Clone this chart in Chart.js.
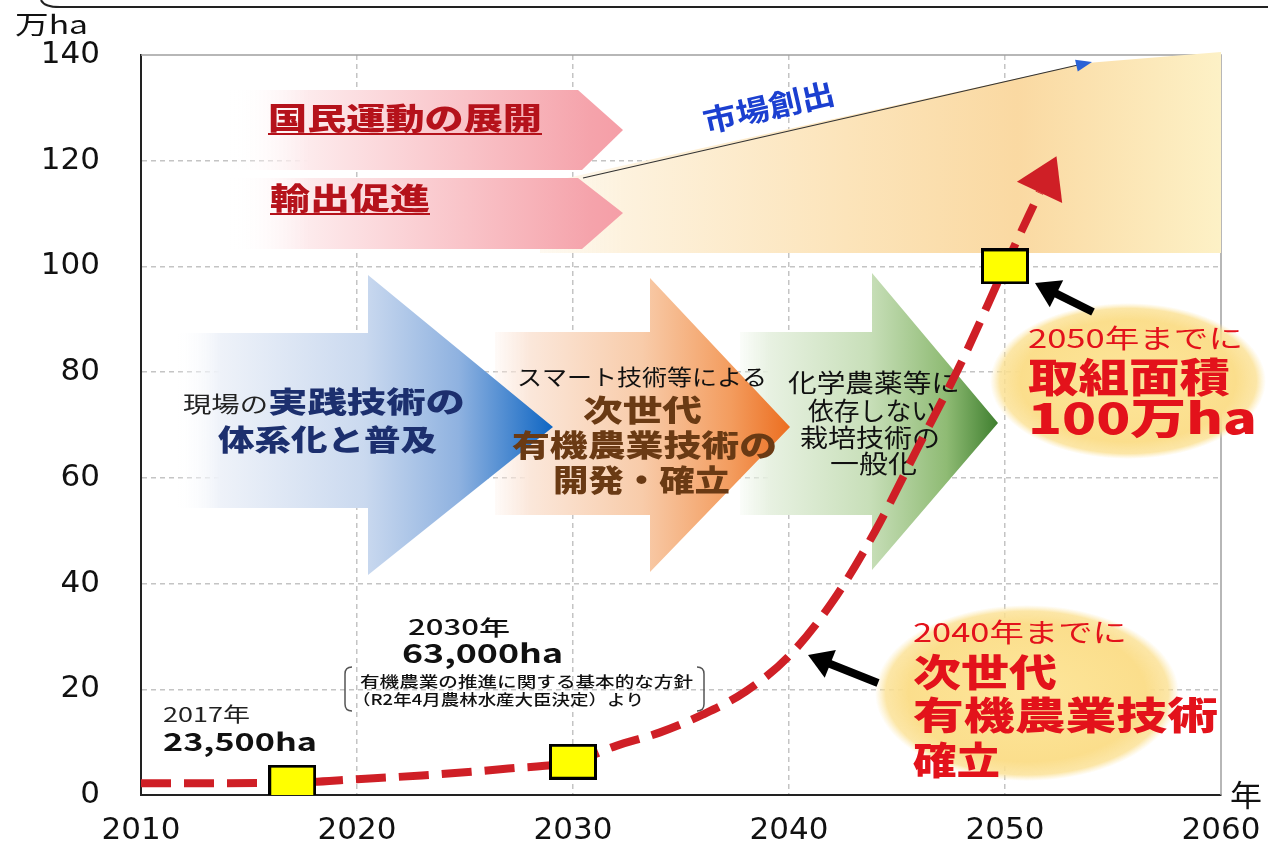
<!DOCTYPE html>
<html><head><meta charset="utf-8">
<script src="https://cdn.jsdelivr.net/npm/chart.js@4.4.1/dist/chart.umd.min.js"></script>
<style>html,body{margin:0;padding:0;background:#fff;overflow:hidden}canvas{display:block}</style>
</head><body>
<canvas id="c" width="1268" height="846"></canvas>
<script>
// ---- data ----
const curveYears  = [2010, 2017, 2020, 2023, 2027, 2030, 2032, 2034, 2036, 2038, 2040, 2042, 2044, 2046, 2048, 2050, 2051.6];
const curveValues = [2.2, 2.35, 3.0, 3.7, 5.0, 6.3, 9.3, 11.8, 15.2, 19.6, 26.3, 36.5, 50, 66, 82, 100, 114];
const markerYears  = [2017, 2030, 2050];
const markerValues = [2.35, 6.3, 100];
const xTicks = [2010, 2020, 2030, 2040, 2050, 2060];
const yTicks = [0, 20, 40, 60, 80, 100, 120, 140];
const xUnit = '年';
const yUnit = '万ha';

const JP = '"Noto Sans CJK JP", "Noto Sans", sans-serif';
const RED = '#e3121b';
const TARGET = { left: 141, right: 1221, top: 55, bottom: 795 };

function fitText(ctx, s, x, y, size, weight, color, width) {
  ctx.save();
  ctx.font = weight + ' ' + size + 'px ' + JP;
  ctx.fillStyle = color;
  ctx.textBaseline = 'middle';
  ctx.textAlign = 'left';
  const w = ctx.measureText(s).width;
  const sx = width ? width / w : 1;
  ctx.translate(x, y);
  ctx.scale(sx, 1);
  ctx.fillText(s, 0, 0);
  ctx.restore();
}

function bigArrow(ctx, x0, bt, bb, hx, ht, hb, tx, ty, stops) {
  const g = ctx.createLinearGradient(x0, 0, tx, 0);
  stops.forEach(s => g.addColorStop(s[0], s[1]));
  ctx.save();
  ctx.fillStyle = g;
  ctx.beginPath();
  ctx.moveTo(x0, bt); ctx.lineTo(hx, bt); ctx.lineTo(hx, ht); ctx.lineTo(tx, ty);
  ctx.lineTo(hx, hb); ctx.lineTo(hx, bb); ctx.lineTo(x0, bb); ctx.closePath();
  ctx.fill();
  ctx.restore();
}

function pentagon(ctx, x0, top, bot, xs, tx, ty, stops) {
  const g = ctx.createLinearGradient(x0, 0, tx, 0);
  stops.forEach(s => g.addColorStop(s[0], s[1]));
  ctx.save();
  ctx.fillStyle = g;
  ctx.beginPath();
  ctx.moveTo(x0, top); ctx.lineTo(xs, top); ctx.lineTo(tx, ty); ctx.lineTo(xs + 4, bot); ctx.lineTo(x0, bot);
  ctx.closePath(); ctx.fill();
  ctx.restore();
}

function blackArrow(ctx, x1, y1, x2, y2) {
  const ang = Math.atan2(y2 - y1, x2 - x1);
  const hl = 24, hw = 15;
  const bx = x2 - hl * Math.cos(ang), by = y2 - hl * Math.sin(ang);
  ctx.save();
  ctx.strokeStyle = '#000'; ctx.fillStyle = '#000';
  ctx.lineWidth = 8;
  ctx.beginPath(); ctx.moveTo(x1, y1); ctx.lineTo(bx + 2 * Math.cos(ang), by + 2 * Math.sin(ang)); ctx.stroke();
  ctx.beginPath();
  ctx.moveTo(x2, y2);
  ctx.lineTo(bx + hw * Math.sin(ang), by - hw * Math.cos(ang));
  ctx.lineTo(bx - hw * Math.sin(ang), by + hw * Math.cos(ang));
  ctx.closePath(); ctx.fill();
  ctx.restore();
}

function blob(ctx, cx, cy, rx, ry) {
  ctx.save();
  ctx.translate(cx, cy);
  ctx.scale(rx / ry, 1);
  const g = ctx.createRadialGradient(0, 0, 0, 0, 0, ry);
  g.addColorStop(0, 'rgba(253,230,155,1)');
  g.addColorStop(0.78, 'rgba(251,222,140,1)');
  g.addColorStop(0.93, 'rgba(251,224,145,0.8)');
  g.addColorStop(1, 'rgba(252,230,165,0)');
  ctx.fillStyle = g;
  ctx.beginPath(); ctx.arc(0, 0, ry, 0, Math.PI * 2); ctx.fill();
  ctx.restore();
}

function bracket(ctx, x, y1, y2, dir) {
  ctx.save();
  ctx.strokeStyle = '#555'; ctx.lineWidth = 1.5;
  ctx.beginPath();
  ctx.moveTo(x + 7 * dir, y1);
  ctx.quadraticCurveTo(x, y1, x, y1 + 7);
  ctx.lineTo(x, y2 - 7);
  ctx.quadraticCurveTo(x, y2, x + 7 * dir, y2);
  ctx.stroke();
  ctx.restore();
}

const decorations = {
  id: 'decorations',
  beforeDatasetsDraw(chart) {
    const ctx = chart.ctx;
    const a = chart.chartArea;
    // top / right frame
    ctx.save();
    ctx.strokeStyle = '#a0a0a0'; ctx.lineWidth = 1.5;
    ctx.beginPath(); ctx.moveTo(a.left, a.top); ctx.lineTo(a.right, a.top); ctx.lineTo(a.right, a.bottom); ctx.stroke();
    ctx.restore();

    // cream band (market creation)
    ctx.save();
    const bg = ctx.createLinearGradient(540, 0, a.right, 0);
    bg.addColorStop(0, 'rgba(253,245,230,0.6)');
    bg.addColorStop(0.12, '#fdf2de');
    bg.addColorStop(0.45, '#fce4ba');
    bg.addColorStop(0.7, '#fad9a2');
    bg.addColorStop(1, '#fdf1c6');
    ctx.fillStyle = bg;
    ctx.beginPath();
    ctx.moveTo(540, 184); ctx.lineTo(1087, 63); ctx.lineTo(a.right, 52);
    ctx.lineTo(a.right, 253); ctx.lineTo(540, 253); ctx.closePath(); ctx.fill();
    ctx.restore();

    const pink = [[0, 'rgba(255,255,255,0)'], [0.2, '#fdeaec'], [0.6, '#f9c3c8'], [0.92, '#f5a3ab'], [1, '#f59ea7']];
    pentagon(ctx, 230, 90, 170, 578, 623, 130, pink);
    pentagon(ctx, 230, 178, 249, 578, 623, 213, pink);
    fitText(ctx, '国民運動の展開', 268, 118, 30, 900, '#b5121b', 274);
    fitText(ctx, '輸出促進', 270, 198, 30, 900, '#b5121b', 160);
    ctx.save(); ctx.strokeStyle = '#b5121b'; ctx.lineWidth = 2;
    ctx.beginPath(); ctx.moveTo(268, 134); ctx.lineTo(542, 134); ctx.moveTo(270, 214); ctx.lineTo(430, 214); ctx.stroke();
    ctx.restore();

    // market creation line
    ctx.save();
    ctx.strokeStyle = '#333'; ctx.lineWidth = 1.2;
    ctx.beginPath(); ctx.moveTo(583, 178); ctx.lineTo(1078, 65); ctx.stroke();
    const la = Math.atan2(65 - 178, 1078 - 583);
    ctx.fillStyle = '#2a62d6';
    ctx.translate(1092, 62); ctx.rotate(la);
    ctx.beginPath(); ctx.moveTo(0, 0); ctx.lineTo(-16, -6); ctx.lineTo(-16, 6); ctx.closePath(); ctx.fill();
    ctx.restore();
    ctx.save();
    ctx.translate(706, 133); ctx.rotate(la);
    ctx.font = '700 30px ' + JP; ctx.fillStyle = '#1b3fd0'; ctx.textBaseline = 'alphabetic';
    const mw = ctx.measureText('市場創出').width;
    ctx.scale(134 / mw, 1);
    ctx.fillText('市場創出', 0, 0);
    ctx.restore();

    // green, orange, blue arrows
    bigArrow(ctx, 740, 332, 515, 872, 273, 570, 998, 423,
      [[0, 'rgba(232,242,226,0.2)'], [0.12, '#e7f1e1'], [0.5, '#c8dfb9'], [0.8, '#8fbb74'], [1, '#3f7f2f']]);
    bigArrow(ctx, 495, 332, 515, 650, 278, 572, 790, 427,
      [[0, 'rgba(252,232,220,0.2)'], [0.12, '#fbe7da'], [0.5, '#f8cba9'], [0.8, '#f39c5e'], [1, '#ec6e20']]);
    bigArrow(ctx, 175, 333, 508, 368, 275, 575, 553, 427,
      [[0, 'rgba(255,255,255,0)'], [0.12, '#eef2f9'], [0.5, '#cad9ef'], [0.75, '#8fb2e0'], [1, '#0f66c3']]);

    fitText(ctx, '現場の', 183, 404, 22, 400, '#222', 85);
    fitText(ctx, '実践技術の', 268, 402, 29, 900, '#1c2f6e', 197);
    fitText(ctx, '体系化と普及', 218, 440, 29, 900, '#1c2f6e', 219);

    fitText(ctx, 'スマート技術等による', 517, 377, 22, 400, '#111', 250);
    fitText(ctx, '次世代', 583, 410, 30, 900, '#6a3a14', 119);
    fitText(ctx, '有機農業技術の', 512, 445, 30, 900, '#6a3a14', 265);
    fitText(ctx, '開発・確立', 553, 480, 30, 900, '#6a3a14', 177);

    fitText(ctx, '化学農薬等に', 788, 382, 25, 400, '#111', 172);
    fitText(ctx, '依存しない', 808, 410, 25, 400, '#111', 129);
    fitText(ctx, '栽培技術の', 800, 437, 25, 400, '#111', 140);
    fitText(ctx, '一般化', 830, 463, 25, 400, '#111', 87);

    // ellipses
    blob(ctx, 1128, 381, 138, 78);
    fitText(ctx, '2050年までに', 1028, 338, 26, 400, RED, 215);
    fitText(ctx, '取組面積', 1028, 377, 40, 900, RED, 202);
    fitText(ctx, '100万ha', 1028, 418, 42, 900, RED, 229);

    blob(ctx, 1027, 693, 152, 88);
    fitText(ctx, '2040年までに', 913, 632, 26, 400, RED, 214);
    fitText(ctx, '次世代', 913, 672, 38, 900, RED, 144);
    fitText(ctx, '有機農業技術', 913, 715, 38, 900, RED, 305);
    fitText(ctx, '確立', 913, 760, 38, 900, RED, 87);

    blackArrow(ctx, 1093, 312, 1035, 283);
    blackArrow(ctx, 878, 683, 808, 655);

    // point labels
    fitText(ctx, '2017年', 163, 714, 20, 400, '#222', 87);
    fitText(ctx, '23,500ha', 163, 741, 25, 700, '#111', 154);
    fitText(ctx, '2030年', 408, 627, 21, 500, '#111', 102);
    fitText(ctx, '63,000ha', 402, 653, 26, 700, '#111', 161);
    fitText(ctx, '有機農業の推進に関する基本的な方針', 360, 681, 15, 500, '#111', 333);
    fitText(ctx, '（R2年4月農林水産大臣決定）より', 352, 699, 15, 500, '#111', 292);
    bracket(ctx, 345, 667, 711, 1);
    bracket(ctx, 704, 667, 711, -1);
  },
  afterDatasetsDraw(chart) {
    const ctx = chart.ctx;
    const xs = chart.scales.x, ys = chart.scales.y;
    const n = curveYears.length;
    const x1 = xs.getPixelForValue(curveYears[n - 2]), y1 = ys.getPixelForValue(curveValues[n - 2]);
    const x2 = xs.getPixelForValue(curveYears[n - 1]), y2 = ys.getPixelForValue(curveValues[n - 1]);
    const ang = Math.atan2(y2 - y1, x2 - x1);
    const L = 40, W = 25;
    ctx.save();
    ctx.fillStyle = '#cf1f26';
    ctx.translate(x2, y2); ctx.rotate(ang);
    ctx.beginPath(); ctx.moveTo(L, 0); ctx.lineTo(0, -W); ctx.lineTo(0, W); ctx.closePath(); ctx.fill();
    ctx.restore();
  },
  afterDraw(chart) {
    const ctx = chart.ctx;
    const a = chart.chartArea;
    fitText(ctx, yUnit, 15, 24, 26, 400, '#111', 73);
    fitText(ctx, xUnit, a.right + 9, a.bottom, 30, 400, '#111', 32);
    // partial frame at top
    ctx.save();
    ctx.strokeStyle = '#222'; ctx.lineWidth = 2;
    ctx.beginPath(); ctx.moveTo(41, 0); ctx.quadraticCurveTo(44, 7, 60, 7); ctx.lineTo(1268, 7); ctx.stroke();
    ctx.restore();
  }
};

// marker image
const mk = document.createElement('canvas');
mk.width = 48; mk.height = 36;
(function () {
  const c = mk.getContext('2d');
  c.fillStyle = '#ffff00'; c.fillRect(0, 0, 48, 36);
  c.strokeStyle = '#000'; c.lineWidth = 3; c.strokeRect(1.5, 1.5, 45, 33);
})();

const gridColor = (edges) => (ctx) => (ctx.tick && edges.includes(ctx.tick.value)) ? 'rgba(0,0,0,0)' : '#c4c4c4';

const pad = { top: 55, right: 47, left: 0, bottom: 0 };
let yW = 141, xH = 51;

const chart = new Chart(document.getElementById('c'), {
  type: 'line',
  data: {
    datasets: [
      {
        data: curveYears.map((y, i) => ({ x: y, y: curveValues[i] })),
        borderColor: '#cf1f26', borderWidth: 8, borderDash: [30, 13], borderCapStyle: 'butt',
        pointRadius: 0, cubicInterpolationMode: 'monotone', fill: false, order: 2
      },
      {
        data: markerYears.map((y, i) => ({ x: y, y: markerValues[i] })),
        showLine: false, pointStyle: mk, pointRadius: 20, order: 1
      }
    ]
  },
  plugins: [decorations],
  options: {
    responsive: false, animation: false, devicePixelRatio: 1,
    layout: { padding: () => ({ top: pad.top, right: pad.right, left: pad.left, bottom: pad.bottom }) },
    plugins: { legend: { display: false }, tooltip: { enabled: false } },
    scales: {
      x: {
        type: 'linear', min: xTicks[0], max: xTicks[xTicks.length - 1],
        afterBuildTicks: (s) => { s.ticks = xTicks.map(v => ({ value: v })); },
        afterFit: (s) => { s.height = xH; s.paddingLeft = 0; s.paddingRight = 0; },
        ticks: { padding: 17, color: '#111', font: { family: 'DejaVu Sans', size: 31 }, callback: (v) => String(v), maxRotation: 0, autoSkip: false },
        grid: { color: gridColor([2010, 2060]), lineWidth: 1.5, drawTicks: false },
        border: { display: true, color: '#222', width: 2, dash: [5, 4] }
      },
      y: {
        min: yTicks[0], max: yTicks[yTicks.length - 1],
        afterBuildTicks: (s) => { s.ticks = yTicks.map(v => ({ value: v })); },
        afterFit: (s) => { s.width = yW; s.paddingTop = 0; s.paddingBottom = 0; },
        ticks: { padding: 41, color: '#111', font: { family: 'DejaVu Sans', size: 31 }, callback: (v) => String(v) },
        grid: { color: gridColor([0, 140]), lineWidth: 1.5, drawTicks: false },
        border: { display: true, color: '#222', width: 2, dash: [5, 4] }
      }
    }
  }
});

// nudge the layout so the plot area lands where the reference has it
for (let i = 0; i < 4; i++) {
  const a = chart.chartArea;
  const dl = TARGET.left - a.left, dr = a.right - TARGET.right, dt = TARGET.top - a.top, db = a.bottom - TARGET.bottom;
  if (Math.abs(dl) + Math.abs(dr) + Math.abs(dt) + Math.abs(db) < 0.5) break;
  yW += dl; pad.right += dr; pad.top += dt; xH += db;
  chart.update();
}
</script>
</body></html>
